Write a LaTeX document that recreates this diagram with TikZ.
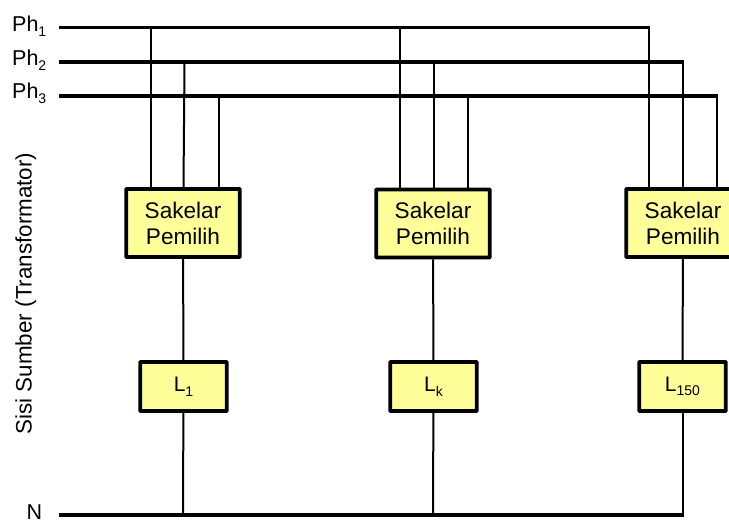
\documentclass[tikz,border=0pt]{standalone}
\usepackage{fontspec}
\setmainfont{Liberation Sans}
\newcommand{\fs}[2]{\fontsize{#1}{#2}\selectfont}
\newcommand{\sbs}[1]{\raisebox{-0.22em}{\fontsize{14}{14}\selectfont #1}}
\definecolor{boxy}{RGB}{255,255,153}
\tikzset{
  x=1pt,y=-1pt,
  bus/.style={line width=3.8pt,line cap=butt},
  wire/.style={line width=2pt},
  sw/.style={draw=black,fill=boxy,line width=3.6pt,inner sep=0pt,minimum width=113.5pt,minimum height=68pt,align=center,font=\fs{22.6}{26},rounded corners=0.5pt},
  load/.style={draw=black,fill=boxy,line width=3.6pt,inner sep=0pt,minimum width=86.5pt,minimum height=49pt,font=\fs{21}{24},rounded corners=0.5pt},
  lab/.style={inner sep=0pt,font=\fs{21.5}{24},anchor=base west}
}
\begin{document}
\begin{tikzpicture}
\useasboundingbox (0,0) rectangle (729,521);
\coordinate (p1s) at (59,27.5);
\coordinate (p2s) at (59,62);
\coordinate (p3s) at (59,96);
\coordinate (ns) at (59,515);
\coordinate (p1e) at (650,27.5);
\coordinate (p2e) at (684,62);
\coordinate (p3e) at (718,96);
\coordinate (ne) at (684,515);
\foreach \n/\x/\y in {a1/150.5/27.5,a2/184.5/62,a3/218.5/96,b1/400/27.5,b2/434/62,b3/467.5/96}
  \coordinate (\n) at (\x,\y);
\coordinate (c1) at (649,27.5);
\coordinate (c2) at (683,62);
\coordinate (c3) at (717,96);
\coordinate (an) at (183,515);
\coordinate (bn) at (433,515);
\coordinate (cn) at (682.5,515);
\node[sw] (sa) at (183,223) {Sakelar\\Pemilih};
\node[sw] (sb) at (433,223.5) {Sakelar\\Pemilih};
\node[sw] (sc) at (683,223) {Sakelar\\Pemilih};
\node[load] (la) at (183.5,386.5) {L\sbs{1}};
\node[load] (lb) at (433.5,386.5) {L\sbs{k}};
\node[load] (lc) at (682.5,386.5) {L\sbs{150}};
\draw[wire] (a1) -- (a1 |- sa.north);
\draw[wire] (a2) -- (183.5,0 |- sa.north);
\draw[wire] (a3) -- (a3 |- sa.north);
\draw[wire] (b1) -- (b1 |- sb.north);
\draw[wire] (b2) -- (b2 |- sb.north);
\draw[wire] (b3) -- (b3 |- sb.north);
\draw[wire] (c1) -- (c1 |- sc.north);
\draw[wire] (c2) -- (c2 |- sc.north);
\draw[wire] (c3) -- (c3 |- sc.north);
\draw[wire] (sa) -- (la);
\draw[wire] (sb) -- (lb);
\draw[wire] (sc) -- (lc);
\draw[wire] (la) -- (an);
\draw[wire] (lb) -- (bn);
\draw[wire] (lc) -- (cn);
\draw[bus] (p1s) -- (p1e);
\draw[bus] (p2s) -- (p2e);
\draw[bus] (p3s) -- (p3e);
\draw[bus] (ns) -- (ne);
\node[lab] (t1) at (12,31.5) {Ph\sbs{1}};
\node[lab] (t2) at (12,65.5) {Ph\sbs{2}};
\node[lab] (t3) at (12,98.5) {Ph\sbs{3}};
\node[lab] (tn) at (26.5,519) {N};
\node[inner sep=0pt,font=\fs{22.4}{24},rotate=90,anchor=base] (ts) at (31.5,293.5) {Sisi Sumber (Transformator)};
\end{tikzpicture}
\end{document}
